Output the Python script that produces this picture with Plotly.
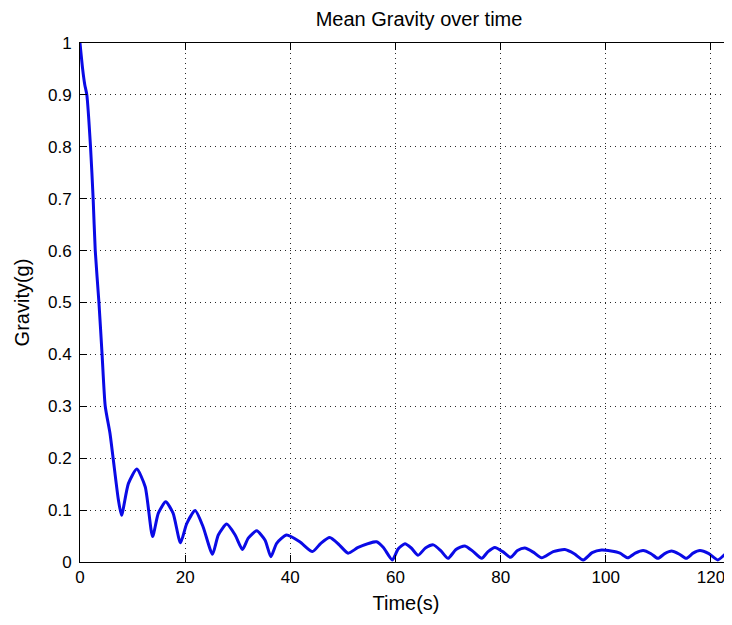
import plotly.graph_objects as go

# values
time_s = [0, 0.5, 0.9, 1.3, 2.0, 2.5, 2.9, 3.6, 4.2, 4.8, 5.7, 6.3, 7.3, 7.9,
          9.2, 10.8, 12.4, 13.8, 14.9, 16.3, 17.7, 19.1, 20.3, 21.9, 23.4, 25.2,
          26.3, 27.9, 29.5, 30.9, 32.0, 33.6, 35.2, 36.3, 37.4, 39.3, 41.8, 44.2,
          45.8, 47.5, 49.3, 51.0, 52.9, 56.4, 57.7, 59.4, 60.5, 61.8, 63.0, 64.3,
          65.7, 67.2, 68.6, 70.0, 71.5, 73.2, 74.8, 76.4, 77.6, 78.9, 80.4, 81.9,
          83.2, 84.6, 86.2, 87.8, 90.0, 92.2, 94.0, 95.7, 97.4, 99.2, 101.0, 102.7,
          104.2, 105.6, 107.1, 108.6, 109.9, 111.2, 112.5, 114.0, 115.3, 116.6,
          117.9, 119.6, 121.3, 122.7, 124.0, 126.0]
gravity = [1.0, 0.95, 0.92, 0.9, 0.8, 0.7, 0.6, 0.5, 0.4, 0.3, 0.248, 0.2, 0.12, 0.09,
           0.151, 0.179, 0.145, 0.049, 0.094, 0.116, 0.094, 0.037, 0.074, 0.099, 0.068, 0.015,
           0.052, 0.073, 0.052, 0.024, 0.046, 0.06, 0.042, 0.01, 0.036, 0.052, 0.039, 0.02,
           0.036, 0.047, 0.033, 0.017, 0.028, 0.039, 0.028, 0.004, 0.025, 0.035, 0.027, 0.013,
           0.027, 0.033, 0.022, 0.007, 0.024, 0.031, 0.02, 0.007, 0.02, 0.028, 0.02, 0.009,
           0.022, 0.027, 0.019, 0.008, 0.02, 0.024, 0.016, 0.004, 0.018, 0.023, 0.021, 0.017,
           0.008, 0.017, 0.022, 0.016, 0.007, 0.016, 0.021, 0.015, 0.007, 0.017,
           0.022, 0.016, 0.004, 0.015, 0.022, 0.025]

x_ticks = [0, 20, 40, 60, 80, 100, 120]
y_ticks = [0, 0.1, 0.2, 0.3, 0.4, 0.5, 0.6, 0.7, 0.8, 0.9, 1]
y_labels = ["0", "0.1", "0.2", "0.3", "0.4", "0.5", "0.6", "0.7", "0.8", "0.9", "1"]

font = "Liberation Sans, Arial, sans-serif"

fig = go.Figure()
fig.add_scatter(x=time_s, y=gravity, mode="lines",
                line=dict(color="rgb(10,10,230)", width=3, shape="spline", smoothing=0.6),
                showlegend=False)

axis_common = dict(showline=True, linecolor="black", linewidth=1, automargin=False,
                   ticks="inside", ticklen=7, tickcolor="black",
                   showgrid=True, gridcolor="rgb(40,40,40)", gridwidth=1, griddash="1px,4px",
                   zeroline=False, tickfont=dict(family=font, size=17, color="black"))

fig.update_xaxes(range=[0, 124], tickvals=x_ticks, mirror="ticks",
                 title=dict(text="Time(s)", font=dict(family=font, size=20, color="black"), standoff=9),
                 **axis_common)
fig.update_yaxes(range=[0, 1], tickvals=y_ticks, ticktext=y_labels,
                 ticklabelstandoff=4,
                 title=dict(text="Gravity(g)", font=dict(family=font, size=20, color="black"), standoff=12),
                 **axis_common)

# page body has an 8px margin, so the figure is drawn 8px smaller and offset
fig.update_layout(
    width=724, height=617,
    margin=dict(l=72, r=0, t=35, b=63, autoexpand=False),
    plot_bgcolor="white", paper_bgcolor="white",
    title=dict(text="Mean Gravity over time", xref="paper", x=0.52, xanchor="center",
               yref="container", y=1 - 11 / 617, yanchor="middle",
               font=dict(family=font, size=20, color="black")),
)

fig.write_html("out.html")
